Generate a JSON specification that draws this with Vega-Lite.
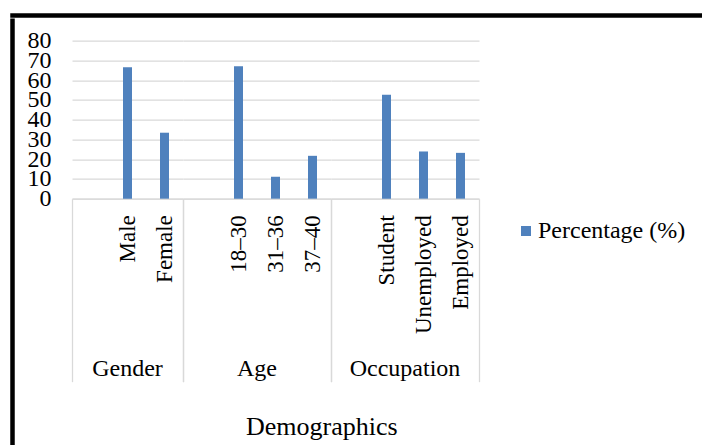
{
  "$schema": "https://vega.github.io/schema/vega-lite/v6.json",
  "padding": {"left": 10, "top": 13, "right": 0, "bottom": 0},
  "background": "white",
  "config": {
    "font": "Liberation Serif",
    "view": {"stroke": null},
    "axis": {"labelColor": "black", "labelFont": "Liberation Serif"},
    "legend": {"labelFont": "Liberation Serif"}
  },
  "datasets": {
    "demo": [
      {"group": "Gender", "category": "", "value": null},
      {"group": "Gender", "category": "Male", "value": 66.5},
      {"group": "Gender", "category": "Female", "value": 33.4},
      {"group": "Age", "category": "", "value": null},
      {"group": "Age", "category": "18–30", "value": 67.0},
      {"group": "Age", "category": "31–36", "value": 11.1},
      {"group": "Age", "category": "37–40", "value": 21.7},
      {"group": "Occupation", "category": "", "value": null},
      {"group": "Occupation", "category": "Student", "value": 52.6},
      {"group": "Occupation", "category": "Unemployed", "value": 23.9},
      {"group": "Occupation", "category": "Employed", "value": 23.2}
    ]
  },
  "spacing": 0,
  "vconcat": [
    {
      "width": 720, "height": 1,
      "data": {"values": []},
      "mark": "point",
      "view": {"stroke": "black", "strokeWidth": 3.5}
    },
    {
      "spacing": 12,
      "center": true,
      "hconcat": [
        {
          "width": 1, "height": 439,
          "data": {"values": []},
          "mark": "point",
          "view": {"stroke": "black", "strokeWidth": 3.5}
        },
        {
          "data": {"name": "demo"},
          "title": {"text": "Demographics", "orient": "bottom", "anchor": "start", "dx": 219, "offset": 32, "font": "Liberation Serif", "fontSize": 26, "fontWeight": "normal", "color": "black"},
          "facet": {
            "column": {
              "field": "group", "type": "nominal",
              "sort": ["Gender", "Age", "Occupation"],
              "title": null,
              "header": {"labelOrient": "bottom", "labelFont": "Liberation Serif", "labelFontSize": 24, "labelColor": "black", "labelPadding": 158}
            }
          },
          "bounds": "flush",
          "spacing": {"column": 0, "row": 0},
          "resolve": {"scale": {"x": "independent"}},
          "spec": {
            "width": {"step": 37},
            "height": 158,
            "mark": {"type": "bar", "width": 9, "invalid": "show"},
            "encoding": {
              "x": {
                "field": "category", "type": "nominal", "sort": null,
                "scale": {"paddingInner": 0, "paddingOuter": 0},
                "axis": {
                  "title": null, "labelAngle": -90, "labelFontSize": 23, "labelPadding": -167,
                  "labelOverlap": false, "labelBound": false, "labelFlush": false,
                  "tickBand": "extent", "tickSize": 183, "tickColor": "#d9d9d9", "tickWidth": 1.3,
                  "tickOpacity": {"condition": {"test": "datum.extra || datum.index === 1", "value": 1}, "value": 0},
                  "domainColor": "#d9d9d9", "domainWidth": 1.3, "grid": false
                }
              },
              "y": {
                "field": "value", "type": "quantitative",
                "scale": {"domain": [0, 80]},
                "axis": {
                  "title": null, "values": [0, 10, 20, 30, 40, 50, 60, 70, 80],
                  "labelOverlap": false, "labelBound": false, "labelFlush": false,
                  "domain": false, "ticks": false, "grid": true, "gridColor": "#d9d9d9", "gridWidth": 1.3,
                  "labelFontSize": 24, "labelPadding": 21
                }
              },
              "color": {
                "datum": "Percentage (%)",
                "scale": {"range": ["#4f81bd"]},
                "legend": {
                  "orient": "none", "legendX": 502, "legendY": 204, "title": null,
                  "symbolType": "square", "symbolSize": 100, "symbolStrokeWidth": 0,
                  "labelFontSize": 24, "labelColor": "black", "labelOffset": 0, "padding": 0
                }
              }
            }
          }
        }
      ]
    }
  ]
}
